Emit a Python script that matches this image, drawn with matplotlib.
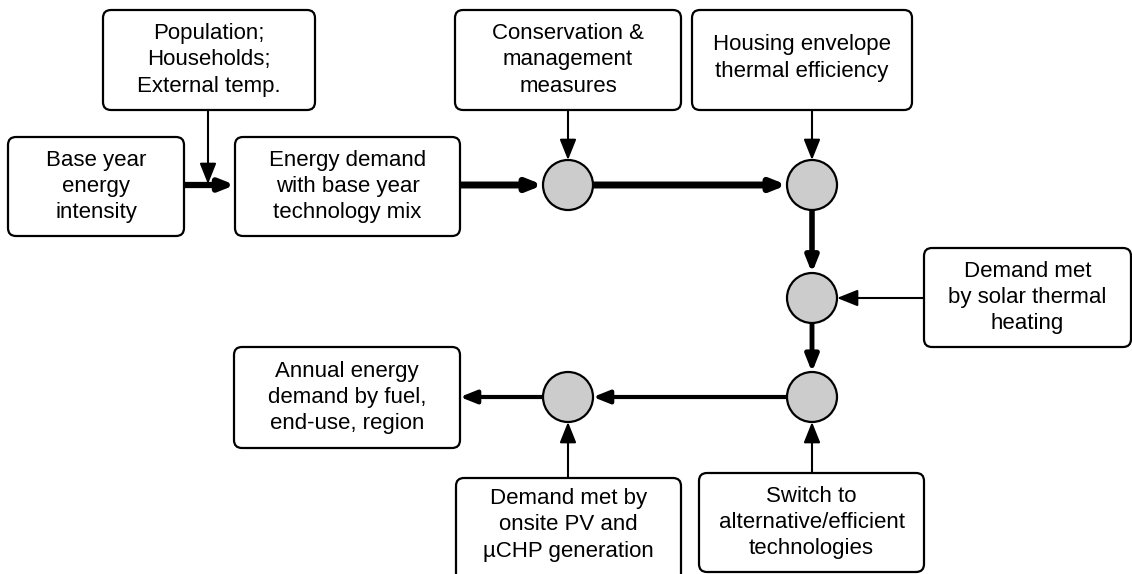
import matplotlib.pyplot as plt
from matplotlib.patches import FancyBboxPatch, Circle, FancyArrowPatch

plt.rcParams['font.family'] = ['Liberation Sans', 'DejaVu Sans']

# box labels
labels = [
    'Population;\nHouseholds;\nExternal temp.',
    'Base year\nenergy\nintensity',
    'Energy demand\nwith base year\ntechnology mix',
    'Conservation &\nmanagement\nmeasures',
    'Housing envelope\nthermal efficiency\n',
    'Demand met\nby solar thermal\nheating',
    'Annual energy\ndemand by fuel,\nend-use, region',
    'Demand met by\nonsite PV and\n\u00b5CHP generation',
    'Switch to\nalternative/efficient\ntechnologies',
]

# box layout in pixels: x0, y0, x1, y1
boxes = [
    (103, 10, 315, 110),
    (8, 137, 184, 236),
    (235, 137, 460, 236),
    (455, 10, 681, 110),
    (692, 10, 912, 110),
    (924, 248, 1131, 347),
    (234, 347, 460, 448),
    (456, 478, 681, 590),
    (699, 473, 924, 572),
]

# summing nodes
nodes = [(568, 185), (812, 185), (812, 298), (812, 397), (568, 397)]
r = 25

fig = plt.figure(figsize=(11.32, 5.74), dpi=100)
ax = fig.add_axes([0, 0, 1, 1])
ax.set_xlim(0, 1132)
ax.set_ylim(574, 0)
ax.axis('off')

for (x0, y0, x1, y1), txt in zip(boxes, labels):
    ax.add_patch(FancyBboxPatch((x0, y0), x1 - x0, y1 - y0,
                                boxstyle='round,pad=0,rounding_size=8',
                                fc='white', ec='black', lw=1.6, zorder=2))
    yc = (y0 + min(y1, 572)) / 2
    if txt.endswith('\n'):
        txt = txt[:-1]
        yc = y0 + 48
    ax.text((x0 + x1) / 2, yc, txt, ha='center', va='center',
            fontsize=16, linespacing=1.34, zorder=3)

for (cx, cy) in nodes:
    ax.add_patch(Circle((cx, cy), r, fc='#cccccc', ec='black', lw=1.6, zorder=3))


def arrow(p0, p1, lw, ms=18):
    ax.add_patch(FancyArrowPatch(p0, p1, arrowstyle='-|>,head_length=0.7,head_width=0.28',
                                 mutation_scale=ms, lw=lw, color='black',
                                 shrinkA=0, shrinkB=0, zorder=1))


# thin feeds
arrow((208, 110), (208, 184), 1.5)
arrow((568, 110), (568, 160), 1.5)
arrow((812, 110), (812, 160), 1.5)
arrow((924, 298), (837, 298), 1.5)
arrow((812, 473), (812, 422), 1.5)
arrow((568, 478), (568, 422), 1.5)

# main flow
arrow((184, 185), (235, 185), 4.5, 12)
arrow((460, 185), (543, 185), 5, 12)
arrow((593, 185), (787, 185), 5, 12)
arrow((812, 210), (812, 273), 4, 13)
arrow((812, 323), (812, 372), 3.5, 14)
arrow((787, 397), (593, 397), 3, 14)
arrow((543, 397), (460, 397), 3, 14)

fig.savefig('out.png', dpi=100)
